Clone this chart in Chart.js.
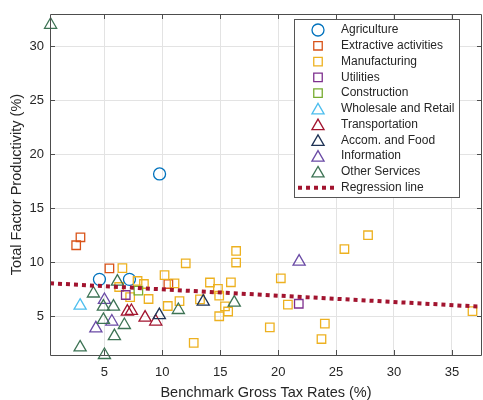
<!DOCTYPE html>
<html>
<head>
  <meta charset="utf-8">
  <script src="https://cdn.jsdelivr.net/npm/chart.js"></script>
  <style>
    html, body { margin: 0; padding: 0; background: #fff; }
  </style>
</head>
<body>
  <canvas id="myScatter" width="483" height="400"></canvas>
<script>
"use strict";

// sector names, in legend order
const sectors = ['Agriculture', 'Extractive activities', 'Manufacturing', 'Utilities', 'Construction',
  'Wholesale and Retail', 'Transportation', 'Accom. and Food', 'Information', 'Other Services'];

// x = benchmark gross tax rate (%), y = TFP (%)
const agriX = [9.76, 4.57, 7.16];
const agriY = [18.18, 8.41, 8.41];
const extrX = [2.56, 2.93, 5.43, 10.52];
const extrY = [11.57, 12.31, 9.43, 7.98];
const manuX = [6.55, 7.86, 8.41, 6.27, 7.22, 8.81, 12.02, 10.19, 11.05, 10.47, 11.48, 12.71, 13.25, 14.11,
  14.80, 14.91, 15.92, 16.37, 16.37, 15.41, 15.68, 14.91, 19.28, 20.23, 20.84, 24.03, 23.74, 25.72, 27.76, 36.78];
const manuY = [9.45, 8.26, 7.98, 7.70, 6.77, 6.59, 9.90, 8.81, 8.04, 5.94, 6.40, 2.53, 6.56, 8.12,
  7.53, 6.91, 8.14, 11.04, 9.97, 5.91, 5.43, 4.99, 3.96, 8.51, 6.06, 4.30, 2.88, 11.22, 12.50, 5.47];
const utilX = [6.84, 21.78];
const utilY = [6.96, 6.15];
const consX = [7.93];
const consY = [7.36];
const wholX = [2.90];
const wholY = [5.97];
const tranX = [6.98, 7.33, 8.51, 9.43];
const tranY = [5.42, 5.48, 4.86, 4.50];
const accoX = [9.74, 13.53];
const accoY = [5.10, 6.35];
const infoX = [5.00, 5.64, 4.26, 21.81];
const infoY = [6.50, 4.50, 3.87, 10.05];
const othrX = [0.35, 4.05, 6.12, 4.91, 5.78, 4.91, 6.72, 5.86, 2.90, 5.00, 11.38, 16.21];
const othrY = [32.0, 7.10, 8.20, 5.88, 5.88, 4.65, 4.18, 3.15, 2.10, 1.40, 5.57, 6.25];

// regression line end points
const regX = [0.3, 37.6];
const regY = [8.05, 5.87];

const xTicks = [5, 10, 15, 20, 25, 30, 35];
const yTicks = [5, 10, 15, 20, 25, 30];

const seriesX = [agriX, extrX, manuX, utilX, consX, wholX, tranX, accoX, infoX, othrX];
const seriesY = [agriY, extrY, manuY, utilY, consY, wholY, tranY, accoY, infoY, othrY];
const colors = ['#0072BD', '#D95319', '#EDB120', '#7E2F8E', '#77AC30', '#4DBEEE', '#A2142F', '#1F3355', '#6A4AA5', '#3D7354'];
const shapes = ['circle', 'rect', 'rect', 'rect', 'rect', 'triangle', 'triangle', 'triangle', 'triangle', 'triangle'];
const radii = { circle: 6, rect: 6, triangle: 7 };

const toPoints = (xs, ys) => xs.map((x, i) => ({ x: x, y: ys[i] }));

const datasets = sectors.map((name, i) => ({
  label: name,
  data: toPoints(seriesX[i], seriesY[i]),
  pointStyle: shapes[i],
  pointRadius: radii[shapes[i]],
  pointHoverRadius: radii[shapes[i]],
  pointBorderWidth: 1.3,
  borderColor: colors[i],
  backgroundColor: 'rgba(0,0,0,0)',
  clip: false,
  order: -i
}));
datasets.push({
  type: 'line',
  label: 'Regression line',
  data: toPoints(regX, regY),
  borderColor: '#A2142F',
  borderWidth: 4,
  borderDash: [4, 4],
  pointRadius: 0,
  fill: false,
  order: -100
});

// draw a marker the same way for the legend
function drawMarker(c, style, x, y, r, color) {
  c.save();
  c.strokeStyle = color;
  c.lineWidth = 1.3;
  c.beginPath();
  if (style === 'circle') {
    c.arc(x, y, r, 0, Math.PI * 2);
  } else if (style === 'rect') {
    const s = Math.SQRT1_2 * r;
    c.rect(x - s, y - s, 2 * s, 2 * s);
  } else {
    c.moveTo(x, y - r);
    c.lineTo(x + r * Math.sin(2 * Math.PI / 3), y + r / 2);
    c.lineTo(x - r * Math.sin(2 * Math.PI / 3), y + r / 2);
    c.closePath();
  }
  c.stroke();
  c.restore();
}

// axes box, inward ticks and the boxed legend
const boxPlugin = {
  id: 'boxPlugin',
  afterDraw(chart) {
    const c = chart.ctx;
    const a = chart.chartArea;
    const xs = chart.scales.x, ys = chart.scales.y;
    c.save();
    c.strokeStyle = '#4d4d4d';
    c.lineWidth = 1;
    c.beginPath();
    c.rect(a.left + 0.5, a.top + 0.5, a.right - a.left - 1, a.bottom - a.top);
    xTicks.forEach(v => {
      const px = Math.round(xs.getPixelForValue(v)) + 0.5;
      c.moveTo(px, a.bottom); c.lineTo(px, a.bottom - 5);
      c.moveTo(px, a.top); c.lineTo(px, a.top + 5);
    });
    yTicks.forEach(v => {
      const py = Math.round(ys.getPixelForValue(v)) + 0.5;
      c.moveTo(a.left, py); c.lineTo(a.left + 5, py);
      c.moveTo(a.right, py); c.lineTo(a.right - 5, py);
    });
    c.stroke();

    // legend
    const lx = 294, ly = 19, lw = 165, lh = 178, step = 15.77;
    c.fillStyle = '#fff';
    c.fillRect(lx, ly, lw, lh);
    c.strokeStyle = '#555';
    c.strokeRect(lx + 0.5, ly + 0.5, lw, lh);
    c.font = '12px "Liberation Sans", Arial, sans-serif';
    c.textBaseline = 'middle';
    c.fillStyle = '#262626';
    sectors.forEach((name, i) => {
      const y = 30 + i * step;
      drawMarker(c, shapes[i], 318, y + (shapes[i] === 'triangle' ? 1.5 : 0), radii[shapes[i]], colors[i]);
      c.fillText(name, 341, y);
    });
    const ry = 30 + sectors.length * step;
    c.strokeStyle = '#A2142F';
    c.lineWidth = 4;
    c.setLineDash([4, 4]);
    c.beginPath();
    c.moveTo(298, ry); c.lineTo(334, ry);
    c.stroke();
    c.setLineDash([]);
    c.fillText('Regression line', 341, ry);
    c.restore();
  }
};

const tickFont = { family: '"Liberation Sans", Arial, sans-serif', size: 13 };
const titleFont = { family: '"Liberation Sans", Arial, sans-serif', size: 14.5 };

const chart = new Chart(document.getElementById('myScatter'), {
  type: 'scatter',
  data: { datasets: datasets },
  options: {
    responsive: false,
    animation: false,
    layout: { padding: { left: 0, top: 14, right: 1, bottom: 0 } },
    plugins: { legend: { display: false }, tooltip: { enabled: false } },
    scales: {
      x: {
        type: 'linear',
        min: 0.3,
        max: 37.6,
        afterBuildTicks: s => { s.ticks = xTicks.map(v => ({ value: v })); },
        afterFit: s => { s.height = 45; },
        grid: { color: '#e3e3e3', drawTicks: false },
        border: { display: false },
        ticks: { color: '#262626', font: tickFont, padding: 10 },
        title: { display: true, text: 'Benchmark Gross Tax Rates (%)', color: '#262626', font: titleFont, padding: { top: 0, bottom: -2 } }
      },
      y: {
        type: 'linear',
        min: 1.4,
        max: 33.0,
        afterBuildTicks: s => { s.ticks = yTicks.map(v => ({ value: v })); },
        afterFit: s => { s.width = 50; },
        grid: { color: '#e3e3e3', drawTicks: false },
        border: { display: false },
        ticks: { color: '#262626', font: tickFont, padding: 6 },
        title: { display: true, text: 'Total Factor Productivity (%)', color: '#262626', font: titleFont, padding: 8 }
      }
    }
  },
  plugins: [boxPlugin]
});

// markers may overflow the plot box, as in the original; don't shrink the area for them
chart.data.datasets.forEach((d, i) => {
  chart.getDatasetMeta(i).controller.getMaxOverflow = () => 0;
});
chart.update();
</script>
</body>
</html>
